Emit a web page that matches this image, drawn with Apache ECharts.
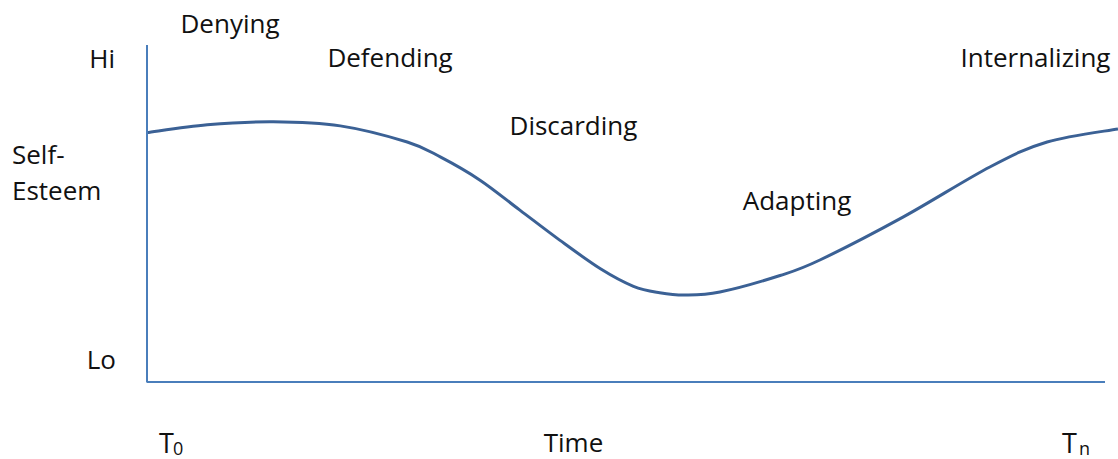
<!DOCTYPE html>
<html>
<head>
<meta charset="utf-8">
<script src="https://cdn.jsdelivr.net/npm/echarts@6/dist/echarts.min.js"></script>
<style>
html,body{margin:0;padding:0;background:#fff;}
#chart{width:1118px;height:459px;}
</style>
</head>
<body>
<div id="chart"></div>
<script>
// Time (0 = T0, 100 = Tn) and self-esteem (0 = Lo, 100 = Hi)
var curveTime   = [0, 6.2, 13.0, 19.9, 26.8, 30.2, 34.3, 38.4, 42.5, 46.7, 50.1, 52.8, 55.4, 59.0, 65.2, 69.3, 77.9, 86.8, 92.7, 100];
var curveEsteem = [74.0, 76.3, 77.2, 76.0, 71.2, 66.8, 59.9, 51.0, 42.1, 33.6, 28.4, 26.5, 25.8, 26.7, 31.6, 36.2, 49.0, 63.8, 71.2, 75.1];

var stageNames  = ['Denying', 'Defending', 'Discarding', 'Adapting', 'Internalizing'];
var stageTime   = [8.55, 25.03, 43.92, 66.94, 91.5];
var stageEsteem = [106.4, 96.4, 76.3, 53.9, 96.5];

var yLabels = ['Hi', 'Lo'];
var yTitle = ['Self-', 'Esteem'];
var xTitle = 'Time';
var xStart = ['T', '0'];
var xEnd = ['T', 'n'];
var axisExtentX = 98.66;

var curveData = curveTime.map(function (t, i) { return [t, curveEsteem[i]]; });
var stageData = stageNames.map(function (n, i) { return { name: n, value: [stageTime[i], stageEsteem[i]] }; });

var FONT = 'Open Sans';
var txt = function (text, x, y, align, size) {
  return {
    type: 'text', x: x, y: y, silent: true,
    style: { text: text, fill: '#111', font: (size || 26) + 'px "' + FONT + '"', textAlign: align, textVerticalAlign: 'middle' }
  };
};

// smooth Catmull-Rom curve through all data points, positioned with the axes' scales
function renderCurve(params, api) {
  if (params.dataIndex !== 0) return null;
  var pts = curveData.map(function (d) { return api.coord(d); });
  var n = pts.length;
  var d = 'M' + pts[0][0] + ',' + pts[0][1];
  for (var i = 0; i < n - 1; i++) {
    var p0 = pts[Math.max(0, i - 1)], p1 = pts[i], p2 = pts[i + 1], p3 = pts[Math.min(n - 1, i + 2)];
    var c1x = p1[0] + (p2[0] - p0[0]) / 6, c1y = p1[1] + (p2[1] - p0[1]) / 6;
    var c2x = p2[0] - (p3[0] - p1[0]) / 6, c2y = p2[1] - (p3[1] - p1[1]) / 6;
    d += ' C' + c1x + ',' + c1y + ' ' + c2x + ',' + c2y + ' ' + p2[0] + ',' + p2[1];
  }
  return {
    type: 'path',
    shape: { pathData: d },
    style: { stroke: '#3b6195', lineWidth: 3, fill: null }
  };
}

var chart = echarts.init(document.getElementById('chart'), null, { renderer: 'svg' });
chart.setOption({
  backgroundColor: '#fff',
  animation: false,
  grid: { left: 147, right: 0, top: 45, bottom: 77 },
  xAxis: { type: 'value', min: 0, max: 100, show: false },
  yAxis: { type: 'value', min: 0, max: 100, show: false },
  series: [
    {
      name: 'axes', type: 'line', silent: true, symbol: 'none', clip: false,
      data: [[0, 100], [0, 0], [axisExtentX, 0]],
      lineStyle: { color: '#4a7ebb', width: 2 }
    },
    {
      name: 'Self-Esteem', type: 'custom', silent: true, clip: false,
      data: curveData,
      encode: { x: 0, y: 1 },
      renderItem: renderCurve
    },
    {
      name: 'stages', type: 'scatter', symbolSize: 0, clip: false, silent: true,
      data: stageData,
      itemStyle: { opacity: 1, color: 'rgba(0,0,0,0)' },
      label: {
        show: true, position: 'inside', formatter: '{b}', opacity: 1,
        color: '#111', fontFamily: FONT, fontSize: 26
      }
    }
  ],
  graphic: [
    txt(yLabels[0], 115, 58, 'right'),
    txt(yLabels[1], 116, 359, 'right'),
    txt(yTitle[0], 12, 154, 'left'),
    txt(yTitle[1], 12, 190, 'left'),
    txt(xTitle, 573.5, 442, 'center'),
    txt(xStart[0], 159, 442, 'left', 27),
    txt(xStart[1], 173, 448, 'left', 18),
    txt(xEnd[0], 1062, 442, 'left', 27),
    txt(xEnd[1], 1079, 448, 'left', 18)
  ]
});
</script>
</body>
</html>
